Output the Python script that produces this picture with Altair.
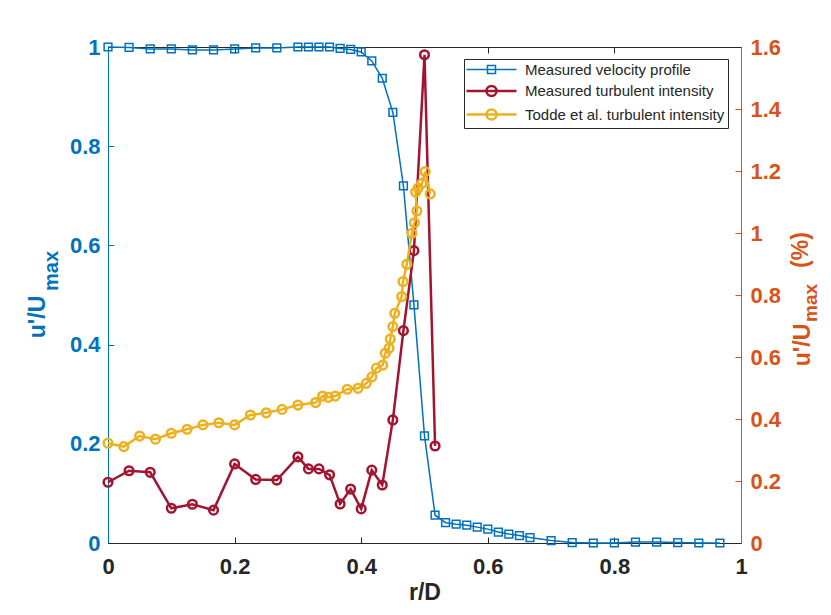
import altair as alt
import pandas as pd

BLUE = "#0072BD"
RED = "#A2142F"
YELLOW = "#EDB120"
ORANGE = "#D95319"
DARK = "#262626"
FONT = "Liberation Sans"

series_names = ["Measured velocity profile", "Measured turbulent intensity",
                "Todde et al. turbulent intensity"]

vel_x = [0, 0.0333, 0.0667, 0.1, 0.1333, 0.1667, 0.2, 0.2333, 0.2667, 0.3,
         0.3167, 0.3333, 0.35, 0.3667, 0.3833, 0.4, 0.4167, 0.4333, 0.45, 0.4667,
         0.4833, 0.5, 0.5167, 0.5333, 0.55, 0.5667, 0.5833, 0.6, 0.6167, 0.6333,
         0.65, 0.6667, 0.7, 0.7333, 0.7667, 0.8, 0.8333, 0.8667, 0.9, 0.9333, 0.9667]
vel_y = [1.0, 0.999, 0.996, 0.996, 0.994, 0.994, 0.996, 0.998, 0.998, 1.0,
         1.0, 1.0, 1.0, 0.997, 0.995, 0.99, 0.972, 0.937, 0.868, 0.720,
         0.480, 0.216, 0.056, 0.041, 0.038, 0.036, 0.032, 0.028, 0.022, 0.018,
         0.015, 0.011, 0.005, 0.001, 0.0, 0.0, 0.002, 0.002, 0.001, 0.0, 0.0]

ti_x = vel_x[:23]
ti_y = [0.196, 0.233, 0.228, 0.112, 0.125, 0.106, 0.255, 0.205, 0.203, 0.278,
        0.239, 0.239, 0.220, 0.126, 0.174, 0.110, 0.235, 0.187, 0.397, 0.685,
        0.943, 1.575, 0.313]

todde_x = [0, 0.025, 0.05, 0.075, 0.1, 0.125, 0.15, 0.175, 0.2, 0.225, 0.25, 0.275, 0.3,
           0.328, 0.339, 0.348, 0.359, 0.378, 0.395, 0.408, 0.417, 0.424, 0.434,
           0.438, 0.444, 0.446, 0.450, 0.453, 0.464, 0.466, 0.472, 0.480, 0.484,
           0.488, 0.486, 0.490, 0.496, 0.501, 0.509]
todde_y = [0.322, 0.311, 0.345, 0.335, 0.354, 0.367, 0.381, 0.388, 0.381, 0.413, 0.420, 0.431, 0.445,
           0.453, 0.474, 0.470, 0.474, 0.496, 0.499, 0.515, 0.536, 0.564, 0.574,
           0.612, 0.628, 0.658, 0.698, 0.741, 0.795, 0.843, 0.899, 0.999, 1.033,
           1.071, 1.132, 1.145, 1.160, 1.198, 1.126]

x_ticks = [0, 0.2, 0.4, 0.6, 0.8, 1]
left_ticks = [0, 0.2, 0.4, 0.6, 0.8, 1]
right_ticks = [0, 0.2, 0.4, 0.6, 0.8, 1.0, 1.2, 1.4, 1.6]

vel = pd.DataFrame({"x": vel_x, "y": vel_y, "i": list(range(len(vel_x)))})
ti = pd.DataFrame({"x": ti_x, "y": ti_y, "i": list(range(len(ti_x)))})
todde = pd.DataFrame({"x": todde_x, "y": todde_y, "i": list(range(len(todde_x)))})

xs = alt.Scale(domain=[0, 1], nice=False, zero=False)
yl = alt.Scale(domain=[0, 1], nice=False)
yr = alt.Scale(domain=[0, 1.6], nice=False)

lab = dict(labelFont=FONT, labelFontSize=22, labelFontWeight="bold", grid=False)

x_main = alt.Axis(orient="bottom", values=x_ticks, format=".1~f", ticks=False, tickSize=0,
                  domainColor=DARK, labelColor=DARK, labelPadding=13, labelFlush=False,
                  title="r/D", titleFont=FONT, titleFontSize=23, titleFontWeight="bold",
                  titleColor=DARK, titlePadding=4, **lab)
x_tick_bot = alt.Axis(orient="bottom", values=x_ticks[1:-1], labels=False, domain=False,
                      ticks=True, tickSize=6, tickColor=DARK, offset=-6, grid=False, title=None)
x_tick_top = alt.Axis(orient="top", values=x_ticks[1:-1], labels=False, domain=False,
                      ticks=True, tickSize=6, tickColor=DARK, offset=-6, grid=False, title=None)
yl_main = alt.Axis(orient="left", values=left_ticks, format=".1~f", ticks=False, tickSize=0,
                   domainColor=BLUE, labelColor=BLUE, labelPadding=8, title=None, **lab)
yl_tick = alt.Axis(orient="left", values=left_ticks[1:-1], labels=False, domain=False,
                   ticks=True, tickSize=6, tickColor=BLUE, offset=-6, grid=False, title=None)
yr_main = alt.Axis(orient="right", values=right_ticks, format=".1~f", ticks=False, tickSize=0,
                   domainColor=ORANGE, labelColor=ORANGE, labelPadding=9, title=None, **lab)
yr_tick = alt.Axis(orient="right", values=right_ticks[1:-1], labels=False, domain=False,
                   ticks=True, tickSize=6, tickColor=ORANGE, offset=-6, grid=False, title=None)

blue_line = alt.Chart(vel).mark_line(color=BLUE, strokeWidth=1.5).encode(
    x=alt.X("x:Q", scale=xs, axis=x_main),
    y=alt.Y("y:Q", scale=yl, axis=yl_main),
    order="i:Q")
blue_pts = alt.Chart(vel).mark_point(shape="square", filled=False, size=60, strokeWidth=1.5,
                                     color=BLUE, opacity=1).encode(
    x=alt.X("x:Q", scale=xs, axis=x_tick_bot),
    y=alt.Y("y:Q", scale=yl, axis=yl_tick))

red_line = alt.Chart(ti).mark_line(color=RED, strokeWidth=2.5).encode(
    x=alt.X("x:Q", scale=xs, axis=x_tick_top),
    y=alt.Y("y:Q", scale=yr, axis=yr_main),
    order="i:Q")
red_pts = alt.Chart(ti).mark_point(shape="circle", filled=False, size=75, strokeWidth=2.5,
                                   color=RED, opacity=1).encode(
    x=alt.X("x:Q", scale=xs, axis=None),
    y=alt.Y("y:Q", scale=yr, axis=yr_tick))

yel_line = alt.Chart(todde).mark_line(color=YELLOW, strokeWidth=2.5).encode(
    x=alt.X("x:Q", scale=xs, axis=None),
    y=alt.Y("y:Q", scale=yr, axis=None),
    order="i:Q")
yel_pts = alt.Chart(todde).mark_point(shape="circle", filled=False, size=75, strokeWidth=2.5,
                                      color=YELLOW, opacity=1).encode(
    x=alt.X("x:Q", scale=xs, axis=None),
    y=alt.Y("y:Q", scale=yr, axis=None))

SQ = "M-5,0H5M-0.8,-0.8H0.8V0.8H-0.8Z"
CI = "M-5,0H5M1,0A1,1,0,1,1,-1,0A1,1,0,1,1,1,0Z"

leg = alt.Legend(title=None, orient="none", legendX=356, legendY=12, direction="vertical",
                 fillColor="white", strokeColor=DARK, padding=3, rowPadding=2.5,
                 labelFont=FONT, labelFontSize=15, labelColor=DARK, labelLimit=400,
                 symbolOffset=17, labelOffset=26, symbolSize=100)

legend_layer = alt.Chart(pd.DataFrame({"s": series_names})).mark_point(
    filled=False, size=100, opacity=1).encode(
    color=alt.Color("s:N", scale=alt.Scale(domain=series_names, range=[BLUE, RED, YELLOW]), legend=leg),
    shape=alt.Shape("s:N", scale=alt.Scale(domain=series_names, range=[SQ, CI, CI]), legend=leg),
    strokeWidth=alt.StrokeWidth("s:N", scale=alt.Scale(type="ordinal", domain=series_names,
                                                      range=[1.5, 2.5, 2.5]), legend=leg),
).transform_filter("false")


def title_text(txt, px, py, size, color):
    return alt.Chart(pd.DataFrame({"t": [txt]})).mark_text(
        angle=270, align="center", baseline="alphabetic", font=FONT, fontSize=size,
        fontWeight="bold", color=color).encode(text="t:N", x=alt.value(px), y=alt.value(py))


t1 = title_text("u'/U", -63, 270, 23, BLUE)
t2 = title_text("max", -50, 224, 20, BLUE)
t3 = title_text("u'/U", 702, 298, 23, ORANGE)
t4 = title_text("max", 709, 256, 19, ORANGE)
t5 = title_text("(%)", 700, 203, 23, ORANGE)

chart = alt.layer(
    blue_line, blue_pts, red_line, red_pts, yel_line, yel_pts, legend_layer, t1, t2, t3, t4, t5
).resolve_scale(y="independent").resolve_axis(x="independent", y="independent").properties(
    width=633, height=496,
    autosize=alt.AutoSizeParams(type="none"),
    padding={"left": 100, "top": 39, "right": 82, "bottom": 64},
).configure_view(stroke=DARK, strokeWidth=1)

chart.save("out.html", embed_options={"renderer": "svg", "actions": False})
